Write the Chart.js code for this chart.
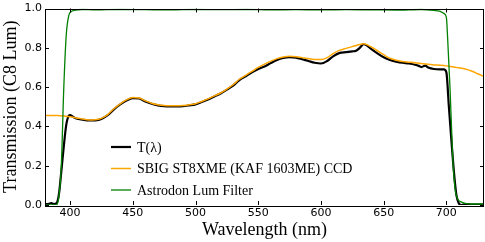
<!DOCTYPE html>
<html>
<head>
<meta charset="utf-8">
<script src="https://cdn.jsdelivr.net/npm/chart.js@4/dist/chart.umd.min.js"></script>
<style>
html,body{margin:0;padding:0;background:#fff;}
#wrap{width:485px;height:242px;position:relative;}
</style>
</head>
<body>
<div id="wrap"><canvas id="c" width="485" height="242"></canvas></div>
<script>
// ---- Data ----
const ccdWl = [380,390,400,405,410,415,420,425,430,435,440,445,450,455,460,465,470,475,480,485,490,495,500,505,510,515,520,525,530,535,540,545,550,555,560,565,570,575,580,585,590,595,600,605,610,615,620,625,630,634,640,645,650,655,660,665,670,675,680,685,690,695,700,705,710,715,720,725,730];
const ccdT = [0.456,0.455,0.449,0.443,0.437,0.433,0.434,0.441,0.460,0.490,0.515,0.535,0.547,0.545,0.530,0.518,0.510,0.506,0.505,0.505,0.506,0.510,0.515,0.527,0.540,0.555,0.570,0.590,0.612,0.640,0.660,0.680,0.700,0.717,0.732,0.745,0.753,0.757,0.755,0.750,0.745,0.741,0.740,0.750,0.772,0.788,0.797,0.806,0.815,0.820,0.805,0.785,0.765,0.747,0.737,0.730,0.727,0.724,0.720,0.716,0.713,0.711,0.708,0.703,0.698,0.692,0.682,0.668,0.653];

const totalWl = [380,383,385,387,389,391,393,395,397,399,400,402,405,410,415,420,425,430,435,440,445,450,455,460,465,470,475,480,485,490,495,500,505,510,515,520,525,530,535,540,545,550,555,560,565,570,575,580,585,590,595,600,605,610,615,620,625,628,631,634,637,640,645,650,655,660,665,670,675,678,680,683,686,690,695,698,700,702,704,706,708,710,712,716,720,730];
const totalT = [0.004,0.006,0.010,0.005,0.008,0.050,0.170,0.300,0.410,0.455,0.458,0.450,0.440,0.434,0.430,0.431,0.438,0.457,0.487,0.512,0.532,0.544,0.542,0.527,0.515,0.507,0.503,0.502,0.502,0.503,0.507,0.512,0.524,0.537,0.552,0.567,0.587,0.608,0.636,0.655,0.675,0.692,0.705,0.722,0.738,0.748,0.752,0.750,0.742,0.733,0.724,0.720,0.733,0.758,0.774,0.778,0.782,0.785,0.800,0.818,0.810,0.795,0.772,0.752,0.738,0.730,0.724,0.720,0.714,0.708,0.702,0.709,0.698,0.692,0.690,0.690,0.675,0.500,0.330,0.170,0.050,0.008,0.000,0.004,0.002,0.002];

const filterWl = [380,385,389,391,393,395,397,399,401,403,410,420,440,460,480,500,520,540,560,580,600,620,640,660,680,690,695,698,700,701,703,705,707,709,712,716,720,730];
const filterT = [0.000,0.000,0.000,0.040,0.200,0.600,0.870,0.965,0.985,0.990,0.995,0.993,0.995,0.994,0.993,0.995,0.994,0.995,0.993,0.994,0.993,0.994,0.993,0.992,0.995,0.990,0.985,0.975,0.955,0.850,0.580,0.250,0.080,0.030,0.015,0.007,0.005,0.005];

const seriesLabels = ['T(\u03bb)', 'SBIG ST8XME (KAF 1603ME) CCD', 'Astrodon Lum Filter'];
const xTickValues = [400,450,500,550,600,650,700];
const yTickValues = [0.0,0.2,0.4,0.6,0.8,1.0];
const xTitle = 'Wavelength (nm)';
const yTitle = 'Transmission (C8 Lum)';

function pts(xs, ys){ return xs.map((x,i)=>({x:x,y:ys[i]})); }

const colors = ['#000000','#FFA500','#008000'];
const widths = [2.2,1.5,1.3];

const frame = {
  id:'frame',
  afterDraw(chart){
    const {ctx, chartArea:a, scales:{x,y}} = chart;
    ctx.save();
    ctx.strokeStyle = '#000';
    ctx.lineWidth = 1;
    ctx.strokeRect(Math.round(a.left)+0.5, Math.round(a.top)+0.5, Math.round(a.right-a.left)-1, Math.round(a.bottom-a.top));
    const L = 4;
    ctx.beginPath();
    x.ticks.forEach(t=>{
      const px = Math.round(x.getPixelForValue(t.value))+0.5;
      ctx.moveTo(px,a.bottom); ctx.lineTo(px,a.bottom-L);
      ctx.moveTo(px,a.top); ctx.lineTo(px,a.top+L);
    });
    y.ticks.forEach(t=>{
      const py = Math.round(y.getPixelForValue(t.value))+0.5;
      ctx.moveTo(a.left,py); ctx.lineTo(a.left+L,py);
      ctx.moveTo(a.right,py); ctx.lineTo(a.right-L,py);
    });
    ctx.stroke();
    // legend
    const lx = 111, ly = [147, 168.5, 190];
    ctx.font = '14px "Liberation Serif", "DejaVu Serif", serif';
    ctx.textBaseline = 'middle';
    ctx.textAlign = 'left';
    for (let i=0;i<3;i++){
      ctx.strokeStyle = colors[i];
      ctx.lineWidth = widths[i];
      ctx.beginPath();
      ctx.moveTo(lx, ly[i]); ctx.lineTo(lx+20, ly[i]);
      ctx.stroke();
      ctx.fillStyle = '#000';
      ctx.fillText(seriesLabels[i], lx+26, ly[i]+1);
    }
    ctx.restore();
  }
};

new Chart(document.getElementById('c'), {
  type:'line',
  data:{
    datasets:[
      {label:seriesLabels[0], data:pts(totalWl,totalT), borderColor:colors[0], borderWidth:widths[0], pointRadius:0, cubicInterpolationMode:'monotone', order:3},
      {label:seriesLabels[1], data:pts(ccdWl,ccdT), borderColor:colors[1], borderWidth:widths[1], pointRadius:0, cubicInterpolationMode:'monotone', order:2},
      {label:seriesLabels[2], data:pts(filterWl,filterT), borderColor:colors[2], borderWidth:widths[2], pointRadius:0, cubicInterpolationMode:'monotone', order:1}
    ]
  },
  options:{
    responsive:false,
    animation:false,
    events:[],
    layout:{padding:{top:6,right:1,left:0,bottom:0}},
    plugins:{legend:{display:false}, tooltip:{enabled:false}},
    scales:{
      x:{
        type:'linear', min:380, max:730,
        afterBuildTicks(s){ s.ticks = xTickValues.map(v=>({value:v})); },
        afterFit(s){ s.height = 37; },
        grid:{display:false, drawTicks:false},
        border:{display:false},
        ticks:{color:'#000', padding:3, maxRotation:0, font:{family:'"DejaVu Sans"', size:11, lineHeight:1}, callback:v=>String(v)},
        title:{display:true, text:xTitle, color:'#000', padding:{top:0,bottom:1}, font:{family:'"Liberation Serif", serif', size:18}}
      },
      y:{
        type:'linear', min:0, max:1,
        afterBuildTicks(s){ s.ticks = yTickValues.map(v=>({value:v})); },
        afterFit(s){ s.width = 45; },
        grid:{display:false, drawTicks:false},
        border:{display:false},
        ticks:{color:'#000', padding:3, font:{family:'"DejaVu Sans"', size:11, lineHeight:1}, callback:v=>Number(v).toFixed(1)},
        title:{display:true, text:yTitle, color:'#000', padding:{top:0,bottom:0}, font:{family:'"Liberation Serif", serif', size:18}}
      }
    }
  },
  plugins:[frame]
});
</script>
</body>
</html>
